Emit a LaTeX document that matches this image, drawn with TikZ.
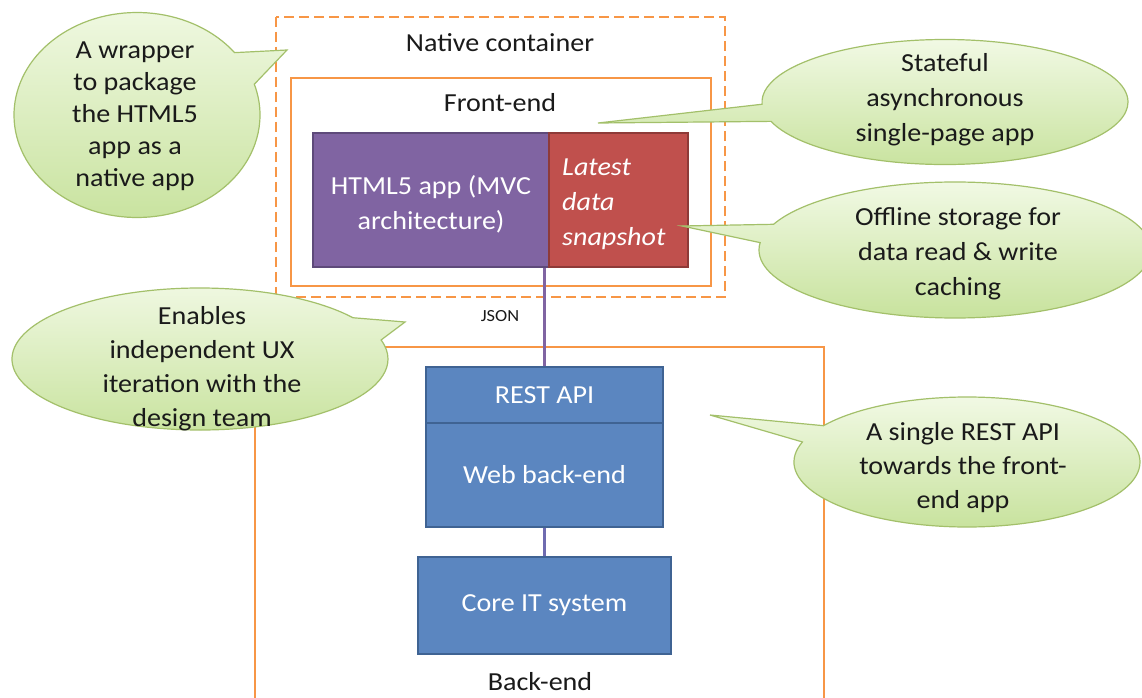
\documentclass[tikz,border=0pt]{standalone}
\usepackage{fontspec}
\setmainfont{Carlito}[FakeStretch=1.08]
\usetikzlibrary{shapes.callouts}
\definecolor{orng}{HTML}{F79646}
\definecolor{purp}{HTML}{8064A2}
\definecolor{purpd}{HTML}{5E4A7A}
\definecolor{redb}{HTML}{C0504D}
\definecolor{redd}{HTML}{8E3A38}
\definecolor{blueb}{HTML}{5B86C0}
\definecolor{blued}{HTML}{3F6393}
\definecolor{bubtop}{HTML}{F1F9E4}
\definecolor{bubbot}{HTML}{C7E29C}
\definecolor{bubline}{HTML}{A3C06A}
\definecolor{txt}{HTML}{1A1A1A}
\definecolor{lnk}{HTML}{6F6BB0}
\tikzset{
  big/.style={font=\fontsize{26}{34}\selectfont},
  cont/.style={draw=orng, line width=2.8pt},
  contdash/.style={cont, dash pattern=on 10pt off 5pt},
  lbl/.style={big, text=txt, inner sep=0pt},
  compbox/.style={big, text=white, line width=1.8pt, align=center, inner sep=0pt},
  bubble/.style={ellipse callout, draw=bubline, line width=1.2pt, top color=bubtop, bottom color=bubbot, inner sep=0pt, callout pointer arc=20},
  bubtext/.style={big, text=txt, align=center, inner sep=0pt},
  link/.style={line width=2.6pt}
}
\begin{document}
\begin{tikzpicture}[x=1pt,y=-1pt]
\useasboundingbox (0,0) rectangle (1142,698);
\fill[white] (0,0) rectangle (1142,698);

% containers
\draw[contdash] (276,17) rectangle (725,297);
\draw[cont] (291,78) rectangle (711,286);
\draw[cont, line width=2.4pt] (255,720) -- (255,347) -- (824,347) -- (824,720);

\node[lbl] (ncl) at (500,43) {Native container};
\node[lbl] (fel) at (500,103) {Front-end};
\node[lbl] (bel) at (540,682) {Back-end};

% components
\node[compbox, fill=purp, draw=purpd, minimum width=236pt, minimum height=134pt] (html) at (431,200) {};
\node[big, text=white, align=center, inner sep=0pt, font=\fontsize{26}{35}\selectfont] (htmltxt) at (431,204) {HTML5 app (MVC\\architecture)};
\node[compbox, fill=redb, draw=redd, minimum width=139pt, minimum height=134pt] (snap) at (618.5,200) {};
\node[big, text=white, align=left, anchor=west, inner sep=0pt, font=\fontsize{26}{35}\selectfont\itshape] (snaptxt) at (562,204) {Latest\\data\\snapshot};
\node[compbox, fill=blueb, draw=blued, minimum width=237pt, minimum height=56pt] (rest) at (544.5,395) {REST API};
\node[compbox, fill=blueb, draw=blued, minimum width=237pt, minimum height=104pt] (web) at (544.5,475) {Web back-end};
\node[compbox, fill=blueb, draw=blued, minimum width=253pt, minimum height=97pt] (core) at (544.5,605.5) {Core IT system};

% connectors
\draw[link, draw=purp] (rest.north) -- (rest.north |- html.south);
\draw[link, draw=lnk] (web.south) -- (core.north);
\node[font=\fontsize{17}{19}\selectfont, text=txt, inner sep=0pt] (json) at (500,316) {JSON};

% callouts
\coordinate (p1) at (287,50);
\coordinate (p2) at (598,123);
\coordinate (p3) at (682,226);
\coordinate (p4) at (405,322);
\coordinate (p5) at (710,415);

\node[bubble, minimum width=246pt, minimum height=205pt, callout absolute pointer={(p1)}] (c1) at (137,115) {};
\node[bubtext, font=\fontsize{26}{32}\selectfont] at (135,116) {A wrapper\\to package\\the HTML5\\app as a\\native app};

\node[bubble, minimum width=366pt, minimum height=125pt, callout absolute pointer={(p2)}, callout pointer arc=16] (c2) at (945,102) {};
\node[bubtext, font=\fontsize{26}{35}\selectfont] at (945,100) {Stateful\\asynchronous\\single-page app};

\node[bubble, minimum width=392pt, minimum height=136pt, callout absolute pointer={(p3)}, callout pointer arc=16] (c3) at (955,250) {};
\node[bubtext, font=\fontsize{26}{35}\selectfont] at (958,254) {Offline storage for\\data read \& write\\caching};

\node[bubble, minimum width=376pt, minimum height=142pt, callout absolute pointer={(p4)}] (c4) at (200,359) {};
\node[bubtext] at (202,369) {Enables\\independent UX\\iteration with the\\design team};

\node[bubble, minimum width=346pt, minimum height=130pt, callout absolute pointer={(p5)}, callout pointer arc=16] (c5) at (967,462) {};
\node[bubtext] at (963,468) {A single REST API\\towards the front-\\end app};
\end{tikzpicture}
\end{document}
